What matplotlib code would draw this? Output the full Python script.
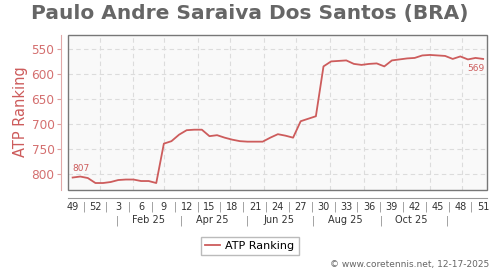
import datetime as dt
import matplotlib
matplotlib.use("Agg")
import matplotlib.pyplot as plt
import matplotlib.dates as mdates
from matplotlib.patches import Rectangle

TITLE = "Paulo Andre Saraiva Dos Santos (BRA)"
first_week_date = dt.date(2024, 12, 7)
week_numbers = [49, 50, 51, 52] + list(range(1, 52))
rankings = [807, 805, 808, 818, 818, 816, 812, 811, 811, 814, 814, 818,
            739, 734, 721, 712, 711, 711, 724, 722, 727, 731, 734, 735,
            735, 735, 727, 720, 723, 727, 694, 689, 684, 584, 574, 573,
            572, 579, 581, 579, 578, 584, 572, 570, 568, 567, 562, 561,
            562, 563, 569, 564, 570, 567, 569]
y_ticks = [550, 600, 650, 700, 750, 800]
month_labels = ["Feb 25", "Apr 25", "Jun 25", "Aug 25", "Oct 25"]
month_label_months = [2, 4, 6, 8, 10]
month_sep_months = [1, 3, 5, 7, 9, 11]
grid_months = list(range(1, 13))
year = 2025

RED = "#cd5c5c"
TICKRED = "#d46f6f"

dates = [first_week_date + dt.timedelta(weeks=k) for k in range(len(rankings))]
x = mdates.date2num(dates)

fig = plt.figure(figsize=(5, 2.7), dpi=100)
W, H = 500, 270
L, R, T, B = 68.3, 486.7, 35, 189.5
ax = fig.add_axes([L / W, 1 - B / H, (R - L) / W, (B - T) / H])
ax.set_facecolor("#f9f9f9")

ax.plot(x, rankings, color=RED, lw=1.3, zorder=3)
ax.set_ylim(831, 521)
ax.set_xlim(x[0] - 4, x[-1] + 3.3)

# y axis
ax.set_yticks(y_ticks)
ax.tick_params(axis="y", colors="#e0a0a0", labelcolor=TICKRED, labelsize=8.7,
               length=3, width=0.8, pad=2)
ax.spines["left"].set_position(("outward", 5))
ax.spines["left"].set_color("#e0a8a8")
ax.grid(axis="y", ls=(0, (4, 3)), color="#dcdcdc", lw=0.8)

# vertical month gridlines
for m in grid_months:
    ax.axvline(mdates.date2num(dt.date(year, m, 1)), ls=(0, (4, 3)),
               color="#dcdcdc", lw=0.8, zorder=1)

# bottom axis: week labels with separators
ax.spines["bottom"].set_position(("outward", 6))
ax.spines["bottom"].set_color("#999999")
ax.spines["top"].set_visible(False)
ax.spines["right"].set_visible(False)
lab_idx = list(range(0, len(week_numbers), 3))
ax.set_xticks([x[i] for i in lab_idx], [str(week_numbers[i]) for i in lab_idx])
sep = [x[i] + 10.5 for i in lab_idx[:-1]]
ax.set_xticks(sep, ["|"] * len(sep), minor=True)
ax.tick_params(axis="x", which="both", length=0, labelsize=7, colors="#333333",
               pad=3)
ax.tick_params(axis="x", which="minor", labelcolor="#888888")

# frame
ax.add_patch(Rectangle((0, 0), 1, 1, transform=ax.transAxes, fill=False,
                       ec="#777777", lw=1.0, zorder=5, clip_on=False))

# month row
sec = ax.secondary_xaxis(-0.148)
sec.set_xticks([mdates.date2num(dt.date(year, m, 15)) for m in month_label_months],
               month_labels)
sec.set_xticks([mdates.date2num(dt.date(year, m, 17)) for m in month_sep_months],
               ["|"] * len(month_sep_months), minor=True)
sec.tick_params(which="both", length=0, labelsize=7, colors="#333333", pad=2)
sec.tick_params(which="minor", labelcolor="#888888")
sec.spines["bottom"].set_visible(False)

# end annotations
ax.annotate(str(rankings[0]), (x[0], rankings[0]), xytext=(0, 3),
            textcoords="offset points", ha="left", va="bottom",
            fontsize=6.5, color=RED)
ax.annotate(str(rankings[-1]), (x[-1], rankings[-1]), xytext=(1, -4),
            textcoords="offset points", ha="right", va="top",
            fontsize=6.5, color=RED)

fig.text(0.5, 1 - 14 / H, TITLE, ha="center", va="center", fontsize=14.5,
         fontweight="bold", color="#666666")
fig.text(21 / W, 1 - 112 / H, "ATP Ranking", rotation=90, ha="center",
         va="center", fontsize=10.5, color=RED)

fig.legend([ax.lines[0]], ["ATP Ranking"], loc="center",
           bbox_to_anchor=(250 / W, 1 - 246 / H), fontsize=8,
           frameon=True, fancybox=False, edgecolor="#aaaaaa",
           handlelength=1.3, handletextpad=0.5, borderpad=0.4)
fig.text(489 / W, 1 - 264 / H, "© www.coretennis.net, 12-17-2025",
         ha="right", va="center", fontsize=6.5, color="#666666")

fig.savefig("out.png", dpi=100)
